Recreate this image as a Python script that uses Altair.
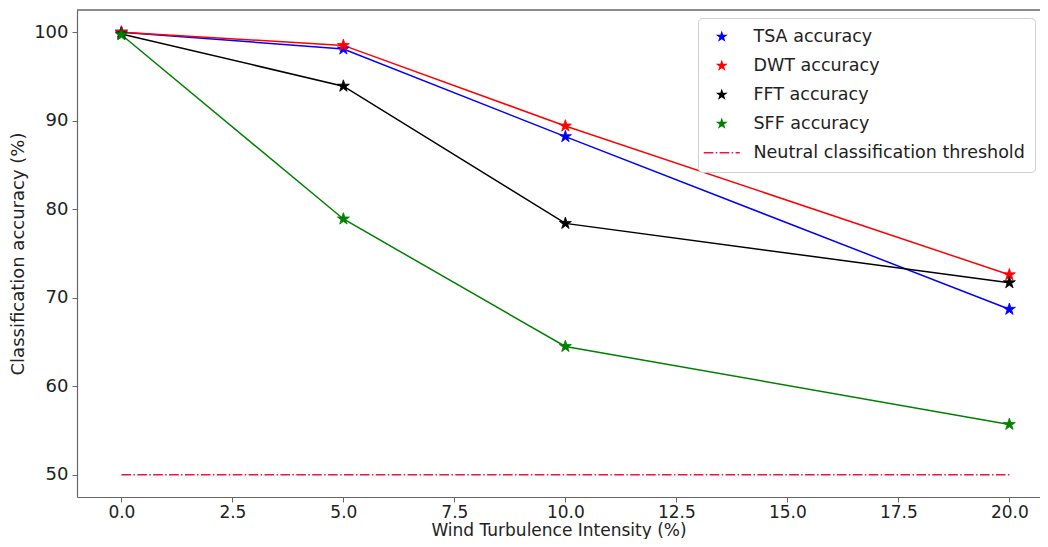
import altair as alt
import pandas as pd

# ---- data ----
turbulence = [0, 5, 10, 20]
tsa_acc = [100.0, 98.1, 88.2, 68.7]
dwt_acc = [100.0, 98.5, 89.4, 72.6]
fft_acc = [99.8, 93.9, 78.4, 71.7]
sff_acc = [99.7, 78.9, 64.5, 55.7]
threshold_x = [0, 20]
threshold_y = [50, 50]

series_names = ["TSA accuracy", "DWT accuracy", "FFT accuracy", "SFF accuracy"]
threshold_name = "Neutral classification threshold"
series_colors = ["#0000ff", "#ff0000", "#000000", "#008000"]
threshold_color = "#e8173f"

x_ticks = [0, 2.5, 5, 7.5, 10, 12.5, 15, 17.5, 20]
y_ticks = [50, 60, 70, 80, 90, 100]

rows = []
for name, color, vals in zip(series_names, series_colors, [tsa_acc, dwt_acc, fft_acc, sff_acc]):
    for i, (x, y) in enumerate(zip(turbulence, vals)):
        rows.append({"series": name, "col": color, "x": x, "y": y, "order": i})
df = pd.DataFrame(rows)
thr = pd.DataFrame({"x": threshold_x, "y": threshold_y})

STAR = ("M0,-1L0.2245,-0.309L0.951,-0.309L0.3633,0.118L0.5878,0.809L0,0.382"
        "L-0.5878,0.809L-0.3633,0.118L-0.951,-0.309L-0.2245,-0.309Z")
h = 0.12
def seg(a, b):
    return f"M{a},{-h}L{b},{-h}L{b},{h}L{a},{h}Z"
DASHDOT = "".join([seg(-2.85, -1.33), seg(-0.95, -0.71), seg(-0.33, 1.19),
                   seg(1.57, 1.81), seg(2.19, 2.85)])

FONT = "DejaVu Sans"
FS = 18
W, H = 963, 487
xscale = alt.Scale(domain=[-1, 20.69], nice=False, zero=False)
yscale = alt.Scale(domain=[47.5, 102.5], nice=False, zero=False)

xenc = alt.X("x:Q", scale=xscale,
             axis=alt.Axis(values=x_ticks, format=".1f", title="Wind Turbulence Intensity (%)",
                           grid=False, titlePadding=2, labelPadding=2,
                           labelFontSize=17, titleFontSize=17))
yenc = alt.Y("y:Q", scale=yscale,
             axis=alt.Axis(values=y_ticks, format="d", title="Classification accuracy (%)",
                           grid=False, titlePadding=6, labelPadding=4))

lines = alt.Chart(df).mark_line(strokeWidth=1.5).encode(
    x=xenc, y=yenc,
    color=alt.Color("col:N", scale=None),
    detail="series:N",
    order="order:Q",
)

threshold = alt.Chart(thr).mark_line(
    strokeWidth=1.5, color=threshold_color, strokeDash=[9.6, 2.4, 1.5, 2.4]
).encode(x="x:Q", y="y:Q")

all_names = series_names + [threshold_name]
points = alt.Chart(df).mark_point(filled=True, opacity=1, size=160, strokeWidth=0.8).encode(
    x="x:Q", y="y:Q",
    color=alt.Color("series:N",
                    scale=alt.Scale(domain=all_names, range=series_colors + [threshold_color]),
                    legend=alt.Legend(
                        title=None, orient="none", legendX=621, legendY=8,
                        symbolSize=160, symbolOffset=5, labelFontSize=17.5, labelFont=FONT,
                        labelColor="#222", labelLimit=500,
                        labelOffset=23, rowPadding=10, padding=10,
                        strokeColor="#d0d0d0", cornerRadius=4, fillColor="white",
                        symbolStrokeWidth=0,
                    )),
    shape=alt.Shape("series:N",
                    scale=alt.Scale(domain=all_names, range=[STAR] * 4 + [DASHDOT])),
    stroke=alt.Stroke("series:N",
                      scale=alt.Scale(domain=all_names, range=series_colors + [threshold_color]),
                      legend=None),
)

top_border = alt.Chart(thr).mark_rule(color="#666", strokeWidth=1.2).encode(
    x=alt.value(0), x2=alt.value(W), y=alt.value(0)
)

chart = alt.layer(lines, threshold, points, top_border).properties(
    width=W, height=H,
    padding={"left": 69, "top": 2, "right": 0, "bottom": 42},
    autosize=alt.AutoSizeParams(type="none"),
).configure_view(stroke=None).configure_axis(
    labelFont=FONT, titleFont=FONT, labelFontSize=FS, titleFontSize=FS,
    labelColor="#222", titleColor="#222", titleFontWeight="normal",
    domainColor="#666", domainWidth=1.2, tickColor="#666", tickSize=5,
)

chart.save("out.html", embed_options={"renderer": "svg", "actions": False})
